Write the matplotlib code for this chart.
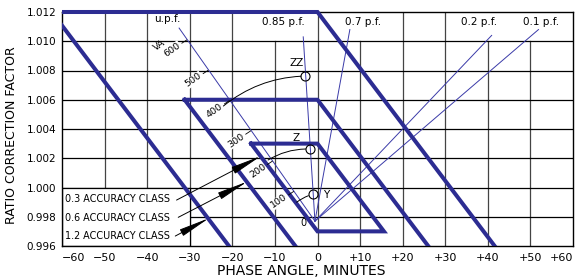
import matplotlib.pyplot as plt
from matplotlib.patches import Rectangle

# axes ticks
phase_ticks = [-60, -50, -40, -30, -20, -10, 0, 10, 20, 30, 40, 50, 60]
phase_labels = ['\u221260', '\u221250', '\u221240', '\u221230', '\u221220', '\u221210',
                '0', '+10', '+20', '+30', '+40', '+50', '+60']
rcf_ticks = [0.996, 0.998, 1.000, 1.002, 1.004, 1.006, 1.008, 1.010, 1.012]
rcf_labels = ['0.996', '0.998', '1.000', '1.002', '1.004', '1.006', '1.008', '1.010', '1.012']

# accuracy class parallelograms (phase angle in minutes, ratio correction factor)
class_03_phase = [-15.6, 0.0, 15.6, 0.0, -15.6]
class_03_rcf = [1.003, 1.003, 0.997, 0.997, 1.003]
class_06_phase = [-31.2, 0.0, 31.2, 0.0, -31.2]
class_06_rcf = [1.006, 1.006, 0.994, 0.994, 1.006]
class_12_phase = [-62.4, 0.0, 62.4, 0.0, -62.4]
class_12_rcf = [1.012, 1.012, 0.988, 0.988, 1.012]

# burden lines at different power factors, all from the zero burden point
origin_phase = -0.6
origin_rcf = 0.9977
pf_names = ['u.p.f.', '0.85 p.f.', '0.7 p.f.', '0.2 p.f.', '0.1 p.f.']
pf_end_phase = [-32.5, -3.35, 7.6, 40.9, 51.9]
pf_end_rcf = [1.0109, 1.0103, 1.0108, 1.0104, 1.0108]
pf_label_phase = [-35.3, -8.0, 10.7, 38.0, 52.6]
pf_label_rcf = [1.01155, 1.0113, 1.0113, 1.0113, 1.0113]

# VA scale along the unity power factor line
va_values = [100, 200, 300, 400, 500, 600]
va_phase = [-5.6, -10.6, -15.7, -20.7, -25.7, -30.7]
va_rcf = [0.99973, 1.00180, 1.00387, 1.00594, 1.00801, 1.01009]

# burden points on the 0.85 p.f. line
point_names = ['Y', 'Z', 'ZZ']
point_phase = [-1.15, -1.75, -2.85]
point_rcf = [0.99953, 1.00263, 1.00762]
point_label_phase = [2.0, -5.0, -5.0]
point_label_rcf = [0.9995, 1.0034, 1.0085]
curve_end_phase = [-4.9, -11.6, -22.1]
curve_end_rcf = [0.99899, 1.00188, 1.00557]
curve_rad = [0.1, 0.15, 0.17]

# accuracy class call-outs
class_names = ['0.3 ACCURACY CLASS', '0.6 ACCURACY CLASS', '1.2 ACCURACY CLASS']
class_label_rcf = [0.99921, 0.99794, 0.99668]
leader_start_phase = [-33.1, -32.7, -33.4]
leader_start_rcf = [0.99914, 0.99796, 0.99668]
leader_tip_phase = [-13.3, -16.5, -25.5]
leader_tip_rcf = [1.00215, 1.0004, 0.9979]

blue = '#2c2c92'
thin_blue = '#3a3aa8'

fig = plt.figure(figsize=(5.77, 2.80), dpi=100)
ax = fig.add_axes([62 / 577, 34 / 280, 511 / 577, 234 / 280])
ax.set_xlim(-60, 60)
ax.set_ylim(0.996, 1.012)

# grid, drawn by hand so the label areas stay blank
for x in phase_ticks[1:-1]:
    top = 1.010 if x in (-10, 10, 40, 50) else 1.012
    ax.plot([x, x], [0.996, top], color='#444444', lw=0.9, zorder=1)
for y in rcf_ticks[1:-1]:
    ax.plot([-60, 60], [y, y], color='black', lw=0.9, zorder=1)
ax.add_patch(Rectangle((-60, 0.996), 30, 0.004, facecolor='white',
                       edgecolor='black', lw=0.9, zorder=1.5))

# accuracy class outlines
clip = Rectangle((0, 0), 1, 1.03, transform=ax.transAxes)
for ph, rc in [(class_12_phase, class_12_rcf), (class_06_phase, class_06_rcf),
               (class_03_phase, class_03_rcf)]:
    line, = ax.plot(ph, rc, color=blue, lw=2.9, solid_joinstyle='miter', zorder=3)
    line.set_clip_path(clip)

# power factor lines
for name, ex, ey, lx, ly in zip(pf_names, pf_end_phase, pf_end_rcf,
                                pf_label_phase, pf_label_rcf):
    ax.plot([origin_phase, ex], [origin_rcf, ey], color=thin_blue, lw=0.7, zorder=2)
    ax.text(lx, ly, name, fontsize=7.5, ha='center', va='center', zorder=4)

# VA scale
for v, vx, vy in zip(va_values, va_phase, va_rcf):
    ax.annotate('', xy=(vx, vy), xytext=(-3.6, -2.4), textcoords='offset points',
                arrowprops=dict(arrowstyle='-', lw=0.6, color='black',
                                shrinkA=0, shrinkB=0), zorder=4)
    ax.annotate(str(v), xy=(vx, vy), xytext=(-10.5, -7.0), textcoords='offset points',
                rotation=35, ha='center', va='center', fontsize=6.8, zorder=2.5,
                bbox=dict(facecolor='white', edgecolor='none', pad=0.3))
ax.text(-37.0, 1.00975, 'VA', rotation=35, ha='center', va='center', fontsize=6.8)

# burden points and their arcs back to the VA scale
ax.plot(point_phase, point_rcf, 'o', mfc='none', mec='black', ms=6.5, mew=0.8, zorder=5)
for px, py, cx, cy, r in zip(point_phase, point_rcf, curve_end_phase, curve_end_rcf, curve_rad):
    ax.annotate('', xy=(cx, cy), xytext=(px, py),
                arrowprops=dict(arrowstyle='-', lw=0.7, color='black',
                                connectionstyle='arc3,rad=%s' % r, shrinkA=3.2, shrinkB=0),
                zorder=4)
for name, lx, ly in zip(point_names, point_label_phase, point_label_rcf):
    ax.text(lx, ly, name, fontsize=7.5, ha='center', va='center', zorder=4)
ax.text(-3.2, 0.99757, '0', fontsize=7, ha='center', va='center', zorder=4)

# accuracy class call-outs
for name, ly, sx, sy, tx, ty in zip(class_names, class_label_rcf, leader_start_phase,
                                     leader_start_rcf, leader_tip_phase, leader_tip_rcf):
    ax.text(-59.2, ly, name, fontsize=6.9, ha='left', va='center', zorder=4)
    ax.annotate('', xy=(tx, ty), xytext=(sx, sy),
                arrowprops=dict(arrowstyle='-|>,head_length=0.38,head_width=0.045',
                                mutation_scale=50, lw=0.7, color='black',
                                shrinkA=0, shrinkB=0), zorder=4)

ax.set_xticks(phase_ticks, phase_labels, fontsize=8)
ax.set_yticks(rcf_ticks, rcf_labels, fontsize=7.5)
ax.tick_params(length=0, pad=4)
ax.tick_params(axis='x', pad=5)
xl = ax.get_xticklabels()
xl[0].set_horizontalalignment('left')
xl[-1].set_horizontalalignment('right')
for s in ax.spines.values():
    s.set_linewidth(1.0)

fig.text(12 / 577, 1 - 135 / 280, 'RATIO CORRECTION FACTOR', rotation=90,
         ha='center', va='center', fontsize=9)
fig.text(301 / 577, 1 - 271 / 280, 'PHASE ANGLE, MINUTES', ha='center', va='center',
         fontsize=10)

fig.savefig('out.png', dpi=100)
